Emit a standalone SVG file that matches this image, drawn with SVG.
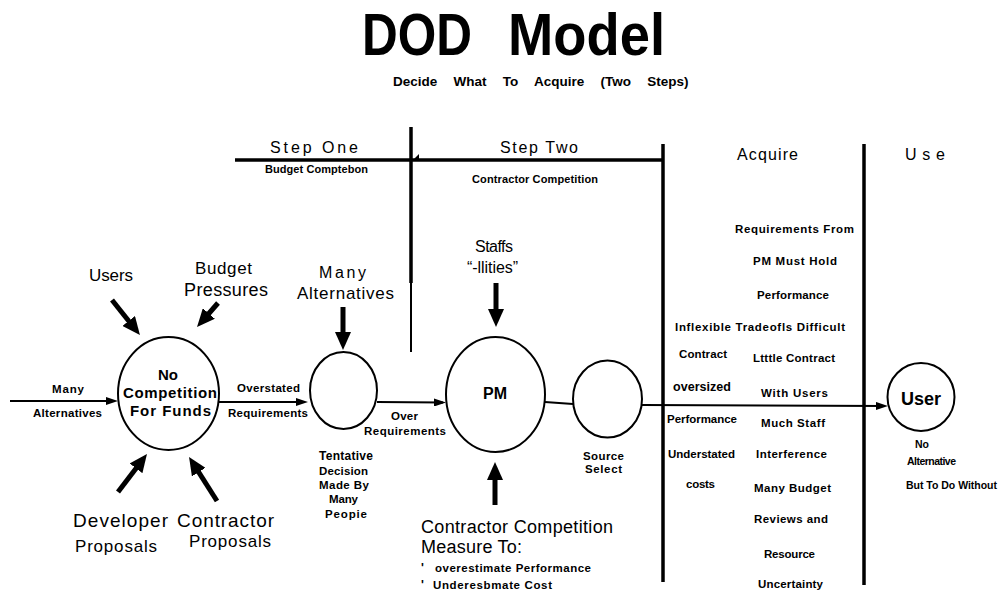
<svg xmlns="http://www.w3.org/2000/svg" width="1005" height="596" viewBox="0 0 1005 596">
<style>
text{font-family:"Liberation Sans",Arial,sans-serif;fill:#000}
.b{font-weight:bold}
.n{fill:none;stroke:#000;stroke-width:2}
.thin{stroke:#000;stroke-width:2;fill:none}
.thick{stroke:#000;stroke-width:5;fill:none}
.rule{stroke:#000;stroke-width:3.5}
.m{text-anchor:middle}
</style>
<defs>
<marker id="big" viewBox="0 0 18 16" markerWidth="18" markerHeight="16" markerUnits="userSpaceOnUse" refX="8" refY="8" orient="auto"><path d="M0,0 L18,8 L0,16 Z" fill="#000"/></marker>
<marker id="small" viewBox="0 0 12 8" markerWidth="12" markerHeight="8" markerUnits="userSpaceOnUse" refX="9" refY="4" orient="auto"><path d="M0,0 L12,4 L0,8 Z" fill="#000"/></marker>
</defs>
<rect width="1005" height="596" fill="#fff"/>

<g id="title">
<text y="55" font-size="59" font-weight="bold"><tspan x="362" textLength="110" lengthAdjust="spacingAndGlyphs">DOD</tspan> <tspan x="508" textLength="157" lengthAdjust="spacingAndGlyphs">Model</tspan></text>
<text x="393" y="86" class="b" font-size="13.5" word-spacing="12.5">Decide What To Acquire (Two Steps)</text>
</g>

<g id="phases" font-size="16">
<line class="rule" x1="235" y1="160" x2="662" y2="160" stroke-width="3"/>
<line class="rule" x1="411" y1="127" x2="411" y2="283"/>
<line x1="411" y1="282" x2="411" y2="352" stroke="#000" stroke-width="2"/>
<line class="rule" x1="663" y1="144" x2="663" y2="582"/>
<line class="rule" x1="864" y1="144" x2="864" y2="585"/>
<polygon points="413,160 419,154 419,160" fill="#000"/>
<text x="270" y="153" textLength="88">Step One</text>
<text x="265" y="173" class="b" font-size="11" textLength="103">Budget Comptebon</text>
<text x="500" y="153" textLength="78">Step Two</text>
<text x="472" y="183" class="b" font-size="11" textLength="126">Contractor Competition</text>
<text x="737" y="160" textLength="61">Acquire</text>
<text x="905" y="160" textLength="40">Use</text>
</g>

<g id="connectors">
<line class="thin" x1="10" y1="401" x2="115" y2="401" marker-end="url(#small)"/>
<line class="thin" x1="219" y1="402" x2="305" y2="402" marker-end="url(#small)"/>
<line class="thin" x1="377" y1="402" x2="443" y2="402.5" marker-end="url(#small)"/>
<line class="thin" x1="545" y1="402" x2="573" y2="404"/>
<line class="thin" x1="642" y1="405" x2="885" y2="406" marker-end="url(#small)"/>
<line class="thick" x1="112" y1="300" x2="133.7" y2="327.2" marker-end="url(#big)"/>
<line class="thick" x1="218" y1="303" x2="203.6" y2="319.5" marker-end="url(#big)"/>
<line class="thick" x1="118" y1="492" x2="140.9" y2="462" marker-end="url(#big)"/>
<line class="thick" x1="217" y1="501" x2="194.4" y2="465.4" marker-end="url(#big)"/>
<line class="thick" x1="343" y1="307" x2="343" y2="340" marker-end="url(#big)"/>
<line class="thick" x1="496" y1="283" x2="496" y2="317" marker-end="url(#big)"/>
<line class="thick" x1="495" y1="505" x2="495" y2="472" marker-end="url(#big)"/>
</g>

<g id="inputs" font-size="11.5">
<text x="52" y="393" class="b" textLength="32">Many</text>
<text x="33" y="417" class="b" textLength="69">Alternatives</text>
<text x="89" y="281" font-size="17" textLength="44">Users</text>
<text x="195" y="274" font-size="17" textLength="57">Budget</text>
<text x="184" y="296" font-size="18" textLength="84">Pressures</text>
<text x="73" y="527" font-size="19" textLength="95">Developer</text>
<text x="177" y="527" font-size="19" textLength="97">Contractor</text>
<text x="75" y="552" font-size="17" textLength="82">Proposals</text>
<text x="189" y="547" font-size="17" textLength="82">Proposals</text>
<text x="237" y="392" class="b" textLength="63">Overstated</text>
<text x="228" y="417" class="b" textLength="80">Requirements</text>
<text x="319" y="278" font-size="16" textLength="47">Many</text>
<text x="297" y="299" font-size="17" textLength="97">Alternatives</text>
<text x="391" y="420" class="b" textLength="27">Over</text>
<text x="364" y="435" class="b" textLength="82">Requirements</text>
<text x="475" y="252" font-size="16" textLength="38">Staffs</text>
<text x="467" y="273" font-size="16" textLength="51">“-llities”</text>
<text x="421" y="533" font-size="18" textLength="192">Contractor Competition</text>
<text x="421" y="553" font-size="18" textLength="101">Measure To:</text>
<text x="421" y="572" class="b" font-size="12">'</text>
<text x="421" y="589" class="b" font-size="12">'</text>
<text x="435" y="572" class="b" textLength="156">overestimate Performance</text>
<text x="433" y="589" class="b" textLength="119">Underesbmate Cost</text>
</g>

<g id="node-no-competition" font-size="15">
<ellipse class="n" cx="168.5" cy="393.5" rx="50.5" ry="56.5"/>
<text x="168" y="380" class="b m">No</text>
<text x="123" y="398" class="b" textLength="94">Competition</text>
<text x="130" y="416" class="b" textLength="81">For Funds</text>
</g>

<g id="node-tentative" font-size="11.5">
<ellipse class="n" cx="343.5" cy="390.5" rx="33.5" ry="38.5"/>
<text x="319" y="460" class="b" font-size="12" textLength="54">Tentative</text>
<text x="319" y="475" class="b" textLength="49">Decision</text>
<text x="319" y="489" class="b" textLength="50">Made By</text>
<text x="329" y="503" class="b" textLength="29">Many</text>
<text x="325" y="518" class="b" textLength="42">Peopie</text>
</g>

<g id="node-pm">
<ellipse class="n" cx="495.5" cy="394.5" rx="49.5" ry="57.5"/>
<text x="495" y="399" class="b m" font-size="16">PM</text>
</g>

<g id="node-source-select" font-size="11.5">
<ellipse class="n" cx="607.5" cy="399" rx="34.5" ry="38.5"/>
<text x="583" y="460" class="b" textLength="41">Source</text>
<text x="585" y="473" class="b" textLength="37">Select</text>
</g>

<g id="acquire-notes" font-size="11.5">
<text x="735" y="233" class="b" textLength="119">Requirements From</text>
<text x="753" y="265" class="b" textLength="84">PM Must Hold</text>
<text x="757" y="299" class="b" textLength="72">Performance</text>
<text x="675" y="331" class="b" textLength="170">Inflexible Tradeofls Difficult</text>
<text x="679" y="358" class="b" textLength="48">Contract</text>
<text x="753" y="362" class="b" textLength="82">Ltttle Contract</text>
<text x="673" y="391" class="b" font-size="12.5" textLength="58">oversized</text>
<text x="761" y="397" class="b" textLength="67">With Users</text>
<text x="667" y="423" class="b" textLength="70">Performance</text>
<text x="761" y="427" class="b" textLength="64">Much Staff</text>
<text x="668" y="458" class="b" textLength="67">Understated</text>
<text x="756" y="458" class="b" textLength="71">Interference</text>
<text x="686" y="488" class="b" textLength="29">costs</text>
<text x="754" y="492" class="b" textLength="77">Many Budget</text>
<text x="754" y="523" class="b" textLength="74">Reviews and</text>
<text x="764" y="558" class="b" textLength="51">Resource</text>
<text x="758" y="588" class="b" textLength="65">Uncertainty</text>
</g>

<g id="node-user" font-size="10.5">
<ellipse class="n" cx="921" cy="397" rx="33.5" ry="34"/>
<text x="921" y="405" class="b m" font-size="18">User</text>
<text x="915" y="448" class="b" textLength="14">No</text>
<text x="907" y="465" class="b" textLength="49">Alternative</text>
<text x="906" y="489" class="b" textLength="91">But To Do Without</text>
</g>
</svg>
